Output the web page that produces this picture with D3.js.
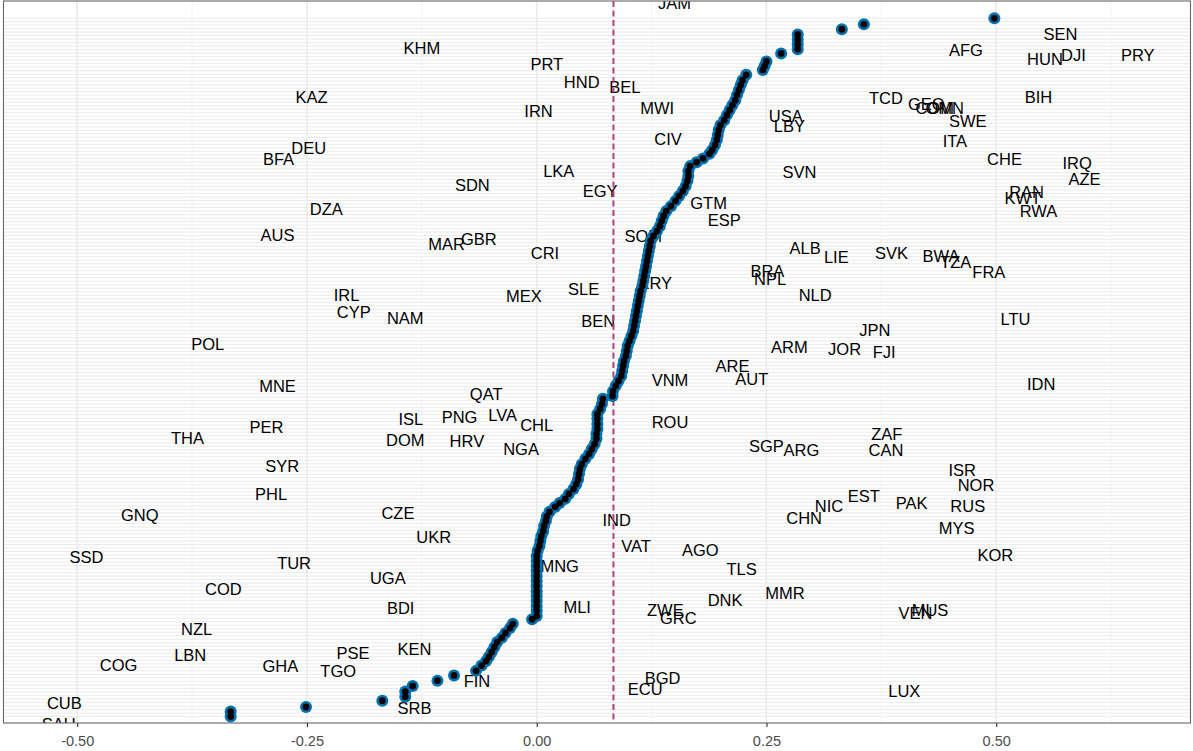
<!DOCTYPE html>
<html>
<head>
<meta charset="utf-8">
<script src="https://cdn.jsdelivr.net/npm/d3@7"></script>
<style>
  body { margin: 0; background: #fff; }
  svg { display: block; font-family: "Liberation Sans", Arial, sans-serif; }
  .tick text { font-size: 14.5px; fill: #4d4d4d; }
</style>
</head>
<body>
<div id="chart"></div>
<script>
// dots: value and row (row 1 = bottom)
const dotValue = [
  -0.333, -0.333, -0.251, -0.168, -0.143, -0.143, -0.135, -0.108, -0.090, -0.066,
  -0.060, -0.055, -0.052, -0.049, -0.046, -0.043, -0.038, -0.034, -0.029, -0.026,
  -0.005, 0.000, 0.000, 0.000, 0.000, 0.000, 0.000, 0.000, 0.000, 0.000,
  0.000, 0.000, 0.000, 0.000, 0.001, 0.003, 0.004, 0.005, 0.007, 0.008,
  0.010, 0.011, 0.014, 0.020, 0.025, 0.031, 0.035, 0.040, 0.043, 0.045,
  0.046, 0.047, 0.049, 0.053, 0.057, 0.060, 0.063, 0.065, 0.065, 0.066,
  0.066, 0.066, 0.066, 0.069, 0.071, 0.072, 0.0825, 0.083, 0.086, 0.089,
  0.092, 0.093, 0.094, 0.095, 0.097, 0.098, 0.099, 0.101, 0.103, 0.105,
  0.106, 0.107, 0.108, 0.109, 0.110, 0.111, 0.112, 0.113, 0.115, 0.116,
  0.117, 0.118, 0.119, 0.120, 0.121, 0.122, 0.123, 0.124, 0.127, 0.131,
  0.134, 0.136, 0.138, 0.141, 0.146, 0.151, 0.155, 0.159, 0.162, 0.164,
  0.165, 0.165, 0.167, 0.174, 0.181, 0.188, 0.191, 0.194, 0.196, 0.197,
  0.198, 0.200, 0.204, 0.207, 0.210, 0.213, 0.216, 0.218, 0.220, 0.222,
  0.224, 0.228, 0.246, 0.248, 0.250, 0.266, 0.284, 0.284, 0.284, 0.284,
  0.332, 0.356, 0.498
];
const dotRow = [
  1.0, 2.4, 3.7, 5.5, 6.6, 8.1, 9.7, 11.2, 12.7, 14.0,
  15.5, 16.8, 18.0, 19.4, 20.8, 22.2, 23.4, 24.8, 26.2, 27.4,
  28.7, 29.6, 31.1, 32.5, 33.9, 35.3, 36.7, 38.2, 39.6, 41.0,
  42.5, 43.9, 45.3, 46.7, 48.2, 49.6, 51.0, 52.4, 53.8, 55.3,
  56.7, 58.0, 59.3, 60.7, 61.8, 63.0, 64.4, 65.8, 67.2, 68.6,
  70.1, 71.5, 72.9, 74.4, 75.8, 77.2, 78.6, 80.1, 81.5, 82.9,
  84.3, 85.8, 87.2, 88.6, 90.0, 91.5, 92.3, 93.7, 95.2, 96.6,
  98.0, 99.4, 100.9, 102.3, 103.7, 105.1, 106.6, 108.0, 109.4, 110.8,
  112.3, 113.7, 115.1, 116.5, 118.0, 119.4, 120.8, 122.2, 123.7, 125.1,
  126.5, 127.9, 129.3, 130.8, 132.2, 133.6, 135.0, 136.5, 137.9, 139.3,
  140.7, 142.2, 143.6, 145.0, 146.4, 147.9, 149.3, 150.7, 152.1, 153.6,
  155.0, 156.4, 157.8, 158.9, 160.0, 161.3, 162.4, 163.8, 165.3, 166.7,
  168.1, 169.5, 170.9, 172.4, 173.8, 175.2, 176.6, 178.1, 179.5, 180.9,
  182.3, 183.8, 185.2, 186.3, 187.6, 189.9, 191.1, 192.5, 193.9, 195.3,
  196.8, 198.2, 199.9
];

// country labels: code, x value, row
const labelCode = [
  "JAM","KHM","SEN","AFG","HUN","DJI","PRY","PRT","HND","BEL",
  "KAZ","BIH","TCD","GEO","COM","OMN","IRN","MWI","USA","LBY",
  "SWE","ITA","CIV","DEU","BFA","CHE","IRQ","AZE","LKA","SVN",
  "SDN","EGY","RAN","KWT","RWA","GTM","DZA","ESP","AUS","SOM",
  "MAR","GBR","CRI","ALB","LIE","SVK","BWA","TZA","BRA","NPL",
  "FRA","ERY","SLE","MEX","NLD","IRL","CYP","NAM","LTU","BEN",
  "JPN","POL","ARM","JOR","FJI","ARE","AUT","VNM","MNE","IDN",
  "QAT","ISL","PNG","LVA","CHL","ROU","PER","THA","DOM","HRV",
  "NGA","ZAF","SGP","ARG","CAN","SYR","ISR","NOR","PHL","EST",
  "PAK","RUS","NIC","GNQ","CZE","CHN","IND","MYS","UKR","VAT",
  "AGO","SSD","KOR","TUR","MNG","TLS","UGA","COD","MMR","DNK",
  "BDI","MLI","ZWE","GRC","VEN","MUS","NZL","PSE","KEN","LBN",
  "COG","GHA","TGO","FIN","BGD","ECU","LUX","CUB","SRB","SAU"
];
const labelX = [
  0.150, -0.125, 0.570, 0.467, 0.553, 0.584, 0.654, 0.011, 0.049, 0.096,
  -0.245, 0.546, 0.380, 0.424, 0.433, 0.444, 0.002, 0.131, 0.271, 0.275,
  0.469, 0.455, 0.143, -0.248, -0.281, 0.509, 0.588, 0.596, 0.024, 0.286,
  -0.070, 0.069, 0.533, 0.529, 0.546, 0.187, -0.229, 0.204, -0.282, 0.116,
  -0.098, -0.063, 0.009, 0.292, 0.326, 0.386, 0.440, 0.456, 0.251, 0.254,
  0.492, 0.129, 0.051, -0.014, 0.303, -0.207, -0.199, -0.143, 0.521, 0.067,
  0.368, -0.358, 0.275, 0.335, 0.378, 0.213, 0.234, 0.145, -0.282, 0.549,
  -0.055, -0.137, -0.084, -0.037, 0.000, 0.145, -0.294, -0.380, -0.143, -0.076,
  -0.017, 0.381, 0.250, 0.288, 0.380, -0.277, 0.463, 0.478, -0.289, 0.356,
  0.408, 0.469, 0.318, -0.432, -0.151, 0.291, 0.087, 0.457, -0.112, 0.108,
  0.178, -0.490, 0.499, -0.264, 0.025, 0.223, -0.162, -0.341, 0.270, 0.205,
  -0.148, 0.044, 0.140, 0.154, 0.412, 0.428, -0.370, -0.200, -0.133, -0.377,
  -0.455, -0.279, -0.216, -0.065, 0.137, 0.118, 0.400, -0.514, -0.133, -0.520
];
const labelRow = [
  204.3, 191.5, 195.4, 190.9, 188.3, 189.5, 189.5, 186.9, 181.8, 180.3,
  177.5, 177.5, 177.2, 175.5, 174.4, 174.4, 173.5, 174.4, 172.1, 169.2,
  170.7, 165.0, 165.5, 163.0, 159.8, 159.8, 158.7, 154.1, 156.4, 156.1,
  152.4, 150.7, 150.4, 148.7, 145.0, 147.3, 145.6, 142.5, 138.2, 137.9,
  135.6, 137.0, 133.1, 134.5, 131.9, 133.1, 132.2, 130.5, 127.9, 125.6,
  127.6, 124.5, 122.8, 120.8, 121.1, 121.1, 116.2, 114.5, 114.2, 113.7,
  111.1, 107.1, 106.3, 105.7, 104.9, 100.9, 97.2, 96.9, 95.2, 95.7,
  92.9, 85.8, 86.3, 86.9, 84.0, 84.9, 83.5, 80.3, 79.8, 79.5,
  77.2, 81.5, 78.1, 76.9, 76.9, 72.4, 71.2, 67.0, 64.4, 63.8,
  61.8, 61.0, 61.0, 58.4, 59.0, 57.6, 57.0, 54.7, 52.1, 49.6,
  48.4, 46.4, 47.0, 44.7, 43.9, 43.0, 40.5, 37.3, 36.2, 34.2,
  31.9, 32.2, 31.3, 29.1, 30.5, 31.3, 25.9, 19.1, 20.2, 18.5,
  15.7, 15.4, 14.0, 11.1, 12.0, 8.8, 8.3, 4.9, 3.4, -1.1
];

const meanValue = 0.0835;
const xTicks = [-0.5, -0.25, 0, 0.25, 0.5];
const xMinor = [-0.375, -0.125, 0.125, 0.375, 0.625];
const rowCount = 200;

const width = 1193, height = 751;
const panel = { left: 3.5, right: 1190.5, top: 1, bottom: 723 };

const svg = d3.select("#chart").append("svg")
  .attr("width", width)
  .attr("height", height);

const x = d3.scaleLinear()
  .domain([-0.5802, 0.7114])
  .range([panel.left, panel.right]);

const y = d3.scaleLinear()
  .domain([1, rowCount])
  .range([716.5, 18]);

svg.append("clipPath").attr("id", "clip")
  .append("rect")
  .attr("x", panel.left).attr("y", panel.top)
  .attr("width", panel.right - panel.left)
  .attr("height", panel.bottom - panel.top);

const g = svg.append("g").attr("clip-path", "url(#clip)");

// horizontal grid, one line per row
g.selectAll("line.hgrid")
  .data(d3.range(1, rowCount + 1))
  .enter().append("line")
  .attr("class", "hgrid")
  .attr("x1", panel.left).attr("x2", panel.right)
  .attr("y1", d => y(d)).attr("y2", d => y(d))
  .attr("stroke", "#ebebeb")
  .attr("stroke-width", 1);

// vertical grid
g.selectAll("line.vminor")
  .data(xMinor)
  .enter().append("line")
  .attr("x1", d => x(d)).attr("x2", d => x(d))
  .attr("y1", panel.top).attr("y2", panel.bottom)
  .attr("stroke", "#f0f0f0")
  .attr("stroke-width", 0.8);

g.selectAll("line.vmajor")
  .data(xTicks)
  .enter().append("line")
  .attr("x1", d => x(d)).attr("x2", d => x(d))
  .attr("y1", panel.top).attr("y2", panel.bottom)
  .attr("stroke", "#ebebeb")
  .attr("stroke-width", 1.6);

// labels
g.selectAll("text.lab")
  .data(labelCode)
  .enter().append("text")
  .attr("x", (d, i) => x(labelX[i]))
  .attr("y", (d, i) => y(labelRow[i]))
  .attr("dy", "0.36em")
  .attr("text-anchor", "middle")
  .attr("font-size", 16.5)
  .attr("fill", "#000")
  .text(d => d);

// mean line
g.append("line")
  .attr("x1", x(meanValue)).attr("x2", x(meanValue))
  .attr("y1", panel.top).attr("y2", panel.bottom)
  .attr("stroke", "#b4407f")
  .attr("stroke-width", 2)
  .attr("stroke-dasharray", "6,3.5");

// points: blue ring first, then black centres
g.selectAll("circle.ring")
  .data(dotValue)
  .enter().append("circle")
  .attr("cx", d => x(d))
  .attr("cy", (d, i) => y(dotRow[i]))
  .attr("r", 6)
  .attr("fill", "#0072B2");

g.selectAll("circle.core")
  .data(dotValue)
  .enter().append("circle")
  .attr("cx", d => x(d))
  .attr("cy", (d, i) => y(dotRow[i]))
  .attr("r", 3.4)
  .attr("fill", "#000");

// panel border
svg.append("rect")
  .attr("x", panel.left).attr("y", panel.top)
  .attr("width", panel.right - panel.left)
  .attr("height", panel.bottom - panel.top)
  .attr("fill", "none")
  .attr("stroke", "#666")
  .attr("stroke-width", 1.1);

// x axis
const xAxis = d3.axisBottom(x)
  .tickValues(xTicks)
  .tickSize(4)
  .tickPadding(8.5)
  .tickFormat(d => d.toFixed(2));

const ax = svg.append("g")
  .attr("transform", `translate(0,${panel.bottom})`)
  .call(xAxis);
ax.select(".domain").remove();
ax.selectAll(".tick line").attr("stroke", "#333").attr("stroke-width", 1.1);
ax.selectAll(".tick text")
  .style("font-size", "14.5px")
  .style("fill", "#4d4d4d");
</script>
</body>
</html>
